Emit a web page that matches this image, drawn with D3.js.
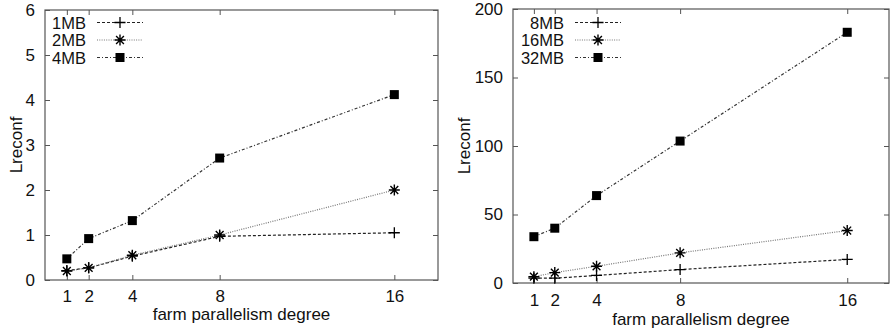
<!DOCTYPE html>
<html>
<head>
<meta charset="utf-8">
<script src="https://cdn.jsdelivr.net/npm/d3@7"></script>
<style>
  body { margin: 0; background: #fff; }
  svg text { font-family: "Liberation Sans", Arial, sans-serif; fill: #111; }
</style>
</head>
<body>
<svg id="chart" width="895" height="332"></svg>
<script>
// farm parallelism degrees
var degrees = [1, 2, 4, 8, 16];

// left panel
var leftNames = ["1MB", "2MB", "4MB"];
var mb1 = [0.21, 0.27, 0.53, 0.97, 1.05];
var mb2 = [0.2, 0.27, 0.55, 1.0, 2.0];
var mb4 = [0.47, 0.92, 1.32, 2.71, 4.12];
var leftYTicks = [0, 1, 2, 3, 4, 5, 6];

// right panel
var rightNames = ["8MB", "16MB", "32MB"];
var mb8 = [3.5, 3.5, 5.5, 9.8, 17.2];
var mb16 = [4.6, 7.6, 12.2, 22, 38.3];
var mb32 = [33.8, 40, 63.8, 103.6, 183];
var rightYTicks = [0, 50, 100, 150, 200];

var svg = d3.select("#chart");

var styles = [
  { dash: "3,2", marker: "plus", stroke: "#222" },
  { dash: "1,1.3", marker: "star", stroke: "#777" },
  { dash: "3,2,1,2", marker: "square", stroke: "#333" }
];

function marker(g, type, x, y) {
  if (type == "plus") {
    g.append("path").attr("d", "M" + (x - 5.5) + "," + y + "h11M" + x + "," + (y - 5.5) + "v11")
      .attr("stroke", "#000").attr("stroke-width", 1.3);
  } else if (type == "star") {
    var r = 5.5, d = 3.9;
    g.append("path").attr("d",
      "M" + (x - r) + "," + y + "h" + (2 * r) +
      "M" + x + "," + (y - r) + "v" + (2 * r) +
      "M" + (x - d) + "," + (y - d) + "l" + (2 * d) + "," + (2 * d) +
      "M" + (x - d) + "," + (y + d) + "l" + (2 * d) + "," + (-2 * d))
      .attr("stroke", "#000").attr("stroke-width", 1.4);
  } else {
    g.append("rect").attr("x", x - 4.5).attr("y", y - 4.5).attr("width", 9).attr("height", 9)
      .attr("fill", "#000");
  }
}

function drawPanel(opt) {
  var x = d3.scaleLinear().domain([0, 18]).range([opt.left, opt.right]);
  var y = d3.scaleLinear().domain(opt.yDomain).range([opt.bottom, opt.top]);
  var g = svg.append("g");

  var ticklen = 5;
  g.append("g").attr("transform", "translate(0," + opt.bottom + ")")
    .call(d3.axisBottom(x).tickValues(degrees).tickSize(-ticklen).tickPadding(opt.xPad));
  g.append("g").attr("transform", "translate(0," + opt.top + ")")
    .call(d3.axisTop(x).tickValues(degrees).tickSize(-ticklen).tickFormat(""));
  g.append("g").attr("transform", "translate(" + opt.left + ",0)")
    .call(d3.axisLeft(y).tickValues(opt.yTicks).tickSize(-ticklen).tickPadding(10).tickFormat(d3.format("d")));
  g.append("g").attr("transform", "translate(" + opt.right + ",0)")
    .call(d3.axisRight(y).tickValues(opt.yTicks).tickSize(-ticklen).tickFormat(""));

  g.selectAll(".domain").remove();
  g.selectAll(".tick line").attr("stroke", "#555");
  g.selectAll(".tick text").style("font-size", "17px").attr("fill", "#111");

  g.append("rect").attr("x", opt.left).attr("y", opt.top)
    .attr("width", opt.right - opt.left).attr("height", opt.bottom - opt.top)
    .attr("fill", "none").attr("stroke", "#555").attr("stroke-width", 1.2);

  g.append("text").attr("x", (opt.left + opt.right) / 2).attr("y", opt.titleY)
    .attr("text-anchor", "middle").style("font-size", "17px").text("farm parallelism degree");
  g.append("text").attr("transform", "translate(" + opt.ylabelX + "," + ((opt.top + opt.bottom) / 2) + ") rotate(-90)")
    .attr("text-anchor", "middle").style("font-size", "17px").text("Lreconf");

  var line = d3.line().x(function(d, i) { return x(degrees[i]); }).y(function(d) { return y(d); });

  opt.series.forEach(function(s, k) {
    var st = styles[k];
    g.append("path").datum(s).attr("d", line)
      .attr("fill", "none").attr("stroke", st.stroke).attr("stroke-width", 1.2)
      .attr("stroke-dasharray", st.dash);
    s.forEach(function(v, i) { marker(g, st.marker, x(degrees[i]), y(v)); });

    // legend
    var ly = 22.5 + k * 17.5;
    g.append("text").attr("x", opt.legendX).attr("y", ly + 6)
      .attr("text-anchor", "end").style("font-size", "16.5px").text(opt.names[k]);
    g.append("line").attr("x1", opt.legendX + 11).attr("x2", opt.legendX + 57)
      .attr("y1", ly).attr("y2", ly)
      .attr("stroke", st.stroke).attr("stroke-width", 1.2).attr("stroke-dasharray", st.dash);
    marker(g, st.marker, opt.legendX + 34, ly);
  });
}

drawPanel({ left: 45, right: 438, top: 10, bottom: 280, yDomain: [0, 6], yTicks: leftYTicks,
  series: [mb1, mb2, mb4], names: leftNames, legendX: 86, ylabelX: 22, xPad: 10, titleY: 320 });
drawPanel({ left: 513, right: 889, top: 9, bottom: 283, yDomain: [0, 200], yTicks: rightYTicks,
  series: [mb8, mb16, mb32], names: rightNames, legendX: 564, ylabelX: 470, xPad: 11, titleY: 325 });
</script>
</body>
</html>
